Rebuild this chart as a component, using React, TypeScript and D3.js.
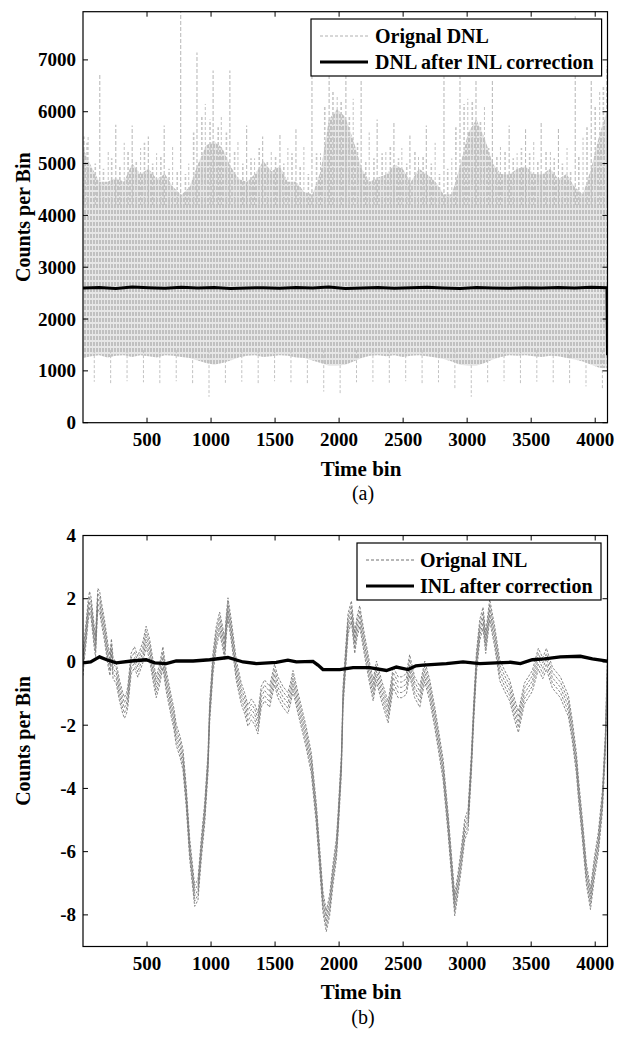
import React from 'react';
import * as d3 from 'd3';

// ---------- data ----------
const xTicks = [500, 1000, 1500, 2000, 2500, 3000, 3500, 4000];
const dnlYTicks = [0, 1000, 2000, 3000, 4000, 5000, 6000, 7000];
const inlYTicks = [-8, -6, -4, -2, 0, 2, 4];

// Original DNL: top / bottom of the dense band, one value every 64 bins
const dnlBandStep = 64;
const dnlBandHigh = [
  5300, 4950, 4650, 4650, 4720, 4650, 5000, 4800, 4900, 4700, 4800, 4550, 4400, 4550, 4980, 5350,
  5430, 5300, 4950, 4700, 4650, 4800, 5050, 4850, 4950, 4650, 4650, 4450, 4410, 4850, 5850, 6050,
  5900, 5450, 4900, 4650, 4730, 4790, 4980, 4900, 4650, 4900, 4790, 4650, 4410, 4410, 4950, 5600,
  5850, 5500, 5000, 4800, 4790, 4900, 4950, 4800, 4790, 4900, 4700, 4800, 4550, 4410, 4900, 5550,
  6050,
];
const dnlBandLow = [
  1250, 1280, 1300, 1260, 1290, 1300, 1270, 1300, 1280, 1260, 1300, 1290, 1270, 1250, 1200, 1150,
  1120, 1150, 1200, 1260, 1290, 1300, 1270, 1280, 1300, 1290, 1260, 1250, 1200, 1150, 1100, 1100,
  1120, 1180, 1250, 1290, 1300, 1280, 1300, 1270, 1290, 1300, 1280, 1260, 1230, 1180, 1120, 1100,
  1100, 1150, 1220, 1270, 1300, 1290, 1300, 1280, 1270, 1290, 1280, 1250, 1220, 1180, 1120, 1060,
  1050,
];
// Original DNL: short spikes poking out of the band top (one every 64 bins, offset by 32)
const dnlFringeBins = [
  32, 96, 160, 224, 288, 352, 416, 480, 544, 608, 672, 736, 800, 864, 928, 992, 1056, 1120, 1184,
  1248, 1312, 1376, 1440, 1504, 1568, 1632, 1696, 1760, 1824, 1888, 1952, 2016, 2080, 2144, 2208,
  2272, 2336, 2400, 2464, 2528, 2592, 2656, 2720, 2784, 2848, 2912, 2976, 3040, 3104, 3168, 3232,
  3296, 3360, 3424, 3488, 3552, 3616, 3680, 3744, 3808, 3872, 3936, 4000, 4064,
];
const dnlFringeValues = [
  5400, 5000, 4900, 5100, 4950, 5250, 5050, 5400, 5000, 5150, 4900, 4850, 4800, 5600, 5900, 5850,
  5700, 5600, 5250, 5000, 5100, 5300, 5050, 5150, 5000, 5200, 4950, 4800, 5200, 6100, 6400, 6200,
  5900, 5400, 5050, 5100, 5200, 5350, 5100, 5000, 5250, 5150, 5000, 4800, 4900, 5700, 6150, 6200,
  5800, 5300, 5150, 5250, 5100, 5300, 5200, 5050, 5250, 5100, 5000, 4850, 5150, 5700, 6100, 6500,
];
// Original DNL: tall upward spikes
const dnlSpikeUpBins = [
  8, 131, 256, 384, 510, 634, 763, 890, 1016, 1147, 1278, 1403, 1538, 1663, 1788, 1922, 2053, 2172,
  2297, 2428, 2553, 2681, 2819, 2944, 3069, 3197, 3328, 3456, 3578, 3713, 3844, 3969, 4090,
];
const dnlSpikeUpValues = [
  5520, 6745, 5747, 5735, 5521, 5735, 7930, 7143, 6795, 6795, 5735, 5520, 5550, 5660, 6745, 6745,
  6810, 6620, 5850, 5785, 5540, 5735, 6680, 6680, 6620, 6620, 5735, 5660, 5820, 5690, 7840, 6620,
  6875,
];
// Original DNL: smaller spikes between the tall ones
const dnlSpikeMidBins = [
  40, 197, 322, 450, 575, 700, 826, 955, 1080, 1210, 1340, 1470, 1600, 1725, 1855, 1985, 2110, 2235,
  2365, 2490, 2620, 2750, 2880, 3005, 3135, 3260, 3390, 3520, 3650, 3780, 3905, 4035,
];
const dnlSpikeMidValues = [
  5550, 5250, 5400, 5300, 5200, 5350, 5000, 6150, 5900, 5450, 5100, 5250, 5300, 5350, 5200, 6300,
  6250, 5600, 5250, 5300, 5150, 5400, 5100, 6250, 6100, 5350, 5200, 5450, 5250, 5300, 5500, 6400,
];
// Original DNL: downward spikes
const dnlSpikeDownBins = [
  88, 216, 344, 472, 600, 728, 856, 984, 1112, 1240, 1368, 1496, 1624, 1752, 1880, 2008, 2136, 2264,
  2392, 2520, 2648, 2776, 2904, 3032, 3160, 3288, 3416, 3544, 3672, 3800, 3928, 4056,
];
const dnlSpikeDownValues = [
  790, 760, 800, 780, 760, 800, 740, 500, 770, 790, 760, 800, 780, 760, 600, 540, 780, 790, 770, 800,
  760, 780, 650, 500, 780, 800, 760, 790, 780, 760, 700, 630,
];
// DNL after INL correction
const dnlAfterBins = [
  0, 128, 256, 384, 512, 640, 768, 896, 1024, 1152, 1280, 1408, 1536, 1664, 1792, 1920, 2048, 2176,
  2304, 2432, 2560, 2688, 2816, 2944, 3072, 3200, 3328, 3456, 3584, 3712, 3840, 3968, 4092, 4096,
];
const dnlAfterValues = [
  2600, 2610, 2590, 2620, 2605, 2595, 2615, 2600, 2610, 2590, 2600, 2605, 2595, 2610, 2600, 2620,
  2590, 2600, 2610, 2595, 2605, 2615, 2600, 2590, 2610, 2600, 2595, 2605, 2600, 2610, 2600, 2615,
  2605, 1300,
];

// Original INL (centre of the zig-zag band)
const inlBins = [
  0, 13, 26, 40, 51, 64, 77, 90, 98, 108, 116, 130, 142, 168, 194, 210, 222, 235, 259, 285, 310, 324,
  340, 350, 376, 402, 428, 450, 467, 493, 520, 546, 572, 598, 624, 650, 689, 710, 728, 759, 781, 807,
  833, 846, 872, 898, 924, 950, 976, 989, 1015, 1041, 1067, 1090, 1106, 1120, 1132, 1158, 1197, 1236,
  1262, 1288, 1315, 1340, 1366, 1392, 1418, 1457, 1496, 1522, 1561, 1600, 1620, 1640, 1679, 1718,
  1744, 1783, 1822, 1848, 1874, 1900, 1926, 1953, 1979, 1992, 2018, 2031, 2052, 2070, 2096, 2112,
  2122, 2140, 2161, 2200, 2239, 2266, 2292, 2331, 2383, 2422, 2461, 2490, 2525, 2551, 2590, 2630,
  2669, 2708, 2747, 2773, 2812, 2851, 2877, 2903, 2929, 2955, 2981, 3007, 3033, 3051, 3072, 3098,
  3124, 3145, 3176, 3215, 3254, 3293, 3332, 3370, 3400, 3447, 3509, 3556, 3590, 3619, 3666, 3728,
  3791, 3822, 3853, 3869, 3900, 3931, 3963, 3994, 4025, 4056, 4080, 4096,
];
const inlValues = [
  -0.1, 0.5, 1.0, 1.6, 1.9, 1.7, 1.2, 0.7, 0.5, 1.4, 2.0, 1.9, 1.6, 1.0, 0.25, -0.1, 0.4, -0.2, -0.35,
  -0.9, -1.3, -1.45, -1.3, -1.1, -0.05, 0.15, -0.15, 0.1, 0.3, 0.8, 0.4, -0.25, -0.8, -0.4, 0.15, -0.6,
  -1.4, -1.8, -2.3, -2.7, -3.1, -4.3, -5.9, -6.4, -7.4, -7.2, -5.9, -4.8, -3.2, -1.6, -0.05, 0.8, 1.25,
  0.8, 0.4, 1.2, 1.7, 1.0, -0.26, -1.0, -1.3, -1.7, -1.5, -1.65, -1.95, -1.1, -0.9, -1.1, -0.4, -0.8,
  -1.1, -1.3, -1.0, -0.6, -1.3, -1.95, -2.4, -3.2, -4.8, -6.2, -7.6, -8.2, -7.7, -6.7, -5.9, -5.1,
  -3.2, -1.1, 0.16, 1.2, 1.6, 1.0, 0.6, 1.1, 1.45, 0.5, -0.37, -0.9, -0.3, -0.9, -1.6, -0.5, -0.8,
  -0.8, -0.7, -0.1, -0.8, -1.1, -0.3, -0.9, -1.75, -2.4, -3.4, -5.1, -6.4, -7.7, -7.0, -6.2, -5.3,
  -5.0, -3.2, -1.6, -0.05, 1.0, 1.4, 0.6, 1.65, 0.8, -0.26, -0.6, -0.9, -1.5, -1.9, -1.0, -0.6, 0.1,
  -0.2, 0.1, -0.5, -0.8, -1.4, -2.2, -3.2, -4.0, -5.3, -6.7, -7.5, -6.5, -5.7, -4.4, -2.5, 0.0,
];
// INL after correction
const inlAfterBins = [
  0, 60, 129, 190, 260, 380, 493, 560, 650, 728, 860, 989, 1132, 1250, 1353, 1509, 1600, 1666, 1796,
  1835, 1874, 2005, 2109, 2239, 2370, 2447, 2538, 2600, 2656, 2838, 2968, 3098, 3228, 3338, 3416,
  3509, 3603, 3728, 3884, 3978, 4096,
];
const inlAfterValues = [
  -0.03, 0.0, 0.16, 0.06, -0.03, 0.03, 0.07, -0.03, -0.05, 0.03, 0.03, 0.07, 0.14, 0.0, -0.05, -0.01,
  0.06, 0.0, 0.02, -0.1, -0.24, -0.24, -0.18, -0.18, -0.27, -0.16, -0.24, -0.12, -0.1, -0.05, 0.0,
  -0.05, -0.03, -0.01, -0.05, 0.07, 0.1, 0.16, 0.18, 0.1, 0.03,
];

// ---------- layout ----------
const FONT = "'Liberation Serif', 'Times New Roman', Times, serif";
const X0 = 83;
const X1 = 607.5;
const TOP = { y0: 11.7, y1: 422.7 };
const BOT = { y0: 535.5, y1: 946.5 };
const TICK = 5;

const x = d3.scaleLinear().domain([0, 4096]).range([X0, X1]);
const yDnl = d3.scaleLinear().domain([0, 7930]).range([TOP.y1, TOP.y0]);
const yInl = d3.scaleLinear().domain([-9, 4]).range([BOT.y1, BOT.y0]);

function Frame({ y0, y1, yScale, yTicks }: any) {
  return (
    <g>
      <rect x={X0} y={y0} width={X1 - X0} height={y1 - y0} fill="none" stroke="#000" strokeWidth={1.2} />
      {xTicks.map((t) => (
        <g key={'x' + t}>
          <line x1={x(t)} x2={x(t)} y1={y1} y2={y1 - TICK} stroke="#000" strokeWidth={1} />
          <line x1={x(t)} x2={x(t)} y1={y0} y2={y0 + TICK} stroke="#000" strokeWidth={1} />
          <text x={x(t)} y={y1 + 23} textAnchor="middle" fontFamily={FONT} fontWeight="bold" fontSize={19}>
            {t}
          </text>
        </g>
      ))}
      {yTicks.map((t: number) => (
        <g key={'y' + t}>
          <line x1={X0} x2={X0 + TICK} y1={yScale(t)} y2={yScale(t)} stroke="#000" strokeWidth={1} />
          <line x1={X1} x2={X1 - TICK} y1={yScale(t)} y2={yScale(t)} stroke="#000" strokeWidth={1} />
          <text x={X0 - 7} y={yScale(t) + 6.5} textAnchor="end" fontFamily={FONT} fontWeight="bold" fontSize={19}>
            {t}
          </text>
        </g>
      ))}
    </g>
  );
}

function Spikes({ bins, values, base, prefix, color, width, dash }: any) {
  return (
    <g>
      {bins.map((b: number, i: number) => (
        <line
          key={prefix + i}
          x1={x(b)}
          x2={x(b)}
          y1={yDnl(base)}
          y2={yDnl(values[i])}
          stroke={color}
          strokeWidth={width}
          strokeDasharray={dash}
        />
      ))}
    </g>
  );
}

export default function App() {
  const bandBins = dnlBandHigh.map((_, i) => Math.min(4096, i * dnlBandStep));
  const bandArea = d3
    .area<number>()
    .x((_, i) => x(bandBins[i]))
    .y0((_, i) => yDnl(dnlBandLow[i]))
    .y1((_, i) => yDnl(dnlBandHigh[i]));
  const dnlAfterLine = d3
    .line<number>()
    .x((_, i) => x(dnlAfterBins[i]))
    .y((v) => yDnl(v));
  const inlLine = (off: number) =>
    d3
      .line<number>()
      .x((_, i) => x(inlBins[i]))
      .y((v) => yInl(v + off));
  const inlAfterLine = d3
    .line<number>()
    .x((_, i) => x(inlAfterBins[i]))
    .y((v) => yInl(v));
  const inlOffsets = [-0.33, -0.165, 0, 0.165, 0.33];

  return (
    <svg
      width={624}
      height={1042}
      viewBox="0 0 624 1042"
      style={{ position: 'absolute', left: 0, top: 0, background: '#fff' }}
    >
      <defs>
        <clipPath id="clipTop">
          <rect x={X0} y={TOP.y0} width={X1 - X0} height={TOP.y1 - TOP.y0} />
        </clipPath>
        <clipPath id="clipBot">
          <rect x={X0} y={BOT.y0} width={X1 - X0} height={BOT.y1 - BOT.y0} />
        </clipPath>
        <pattern id="dnlTex" width={3} height={6} patternUnits="userSpaceOnUse">
          <rect x={0} y={0} width={3} height={6} fill="#e6e6e6" />
          <rect x={0} y={0} width={2} height={4} fill="#c0c0c0" />
        </pattern>
      </defs>
      <rect x={0} y={0} width={624} height={1042} fill="#fff" />

      {/* ---------- (a) DNL ---------- */}
      <g clipPath="url(#clipTop)">
        <path d={bandArea(dnlBandHigh) || ''} fill="url(#dnlTex)" stroke="none" />
        <Spikes bins={dnlFringeBins} values={dnlFringeValues} base={4200} prefix="f" color="#c6c6c6" width={1.6} dash="3 2" />
        <Spikes bins={dnlSpikeMidBins} values={dnlSpikeMidValues} base={4200} prefix="m" color="#c2c2c2" width={1} dash="3 2" />
        <Spikes bins={dnlSpikeUpBins} values={dnlSpikeUpValues} base={4200} prefix="u" color="#bcbcbc" width={1.1} dash="4 2" />
        <Spikes bins={dnlSpikeDownBins} values={dnlSpikeDownValues} base={1400} prefix="d" color="#c2c2c2" width={1} dash="3 2" />
        <path d={dnlAfterLine(dnlAfterValues) || ''} fill="none" stroke="#000" strokeWidth={3} />
      </g>
      <Frame y0={TOP.y0} y1={TOP.y1} yScale={yDnl} yTicks={dnlYTicks} />
      {/* legend (a) */}
      <g>
        <rect x={311} y={19} width={290.6} height={57} fill="#fff" stroke="#000" strokeWidth={1.2} />
        <line x1={320} x2={368} y1={36} y2={36} stroke="#b0b0b0" strokeWidth={1} strokeDasharray="3 2" />
        <text x={375} y={43} fontFamily={FONT} fontWeight="bold" fontSize={20}>
          Orignal DNL
        </text>
        <line x1={320} x2={368} y1={62} y2={62} stroke="#000" strokeWidth={3} />
        <text x={375} y={69} fontFamily={FONT} fontWeight="bold" fontSize={20}>
          DNL after INL correction
        </text>
      </g>
      <text
        transform={`translate(30,${(TOP.y0 + TOP.y1) / 2}) rotate(-90)`}
        textAnchor="middle"
        fontFamily={FONT}
        fontWeight="bold"
        fontSize={20}
      >
        Counts per Bin
      </text>
      <text x={361} y={476} textAnchor="middle" fontFamily={FONT} fontWeight="bold" fontSize={21}>
        Time bin
      </text>
      <text x={363} y={500} textAnchor="middle" fontFamily={FONT} fontSize={20}>
        (a)
      </text>

      {/* ---------- (b) INL ---------- */}
      <g clipPath="url(#clipBot)">
        {inlOffsets.map((o) => (
          <path
            key={'o' + o}
            d={inlLine(o)(inlValues) || ''}
            fill="none"
            stroke="#777"
            strokeWidth={0.9}
            strokeDasharray="2.5 1.5"
          />
        ))}
        <path d={inlAfterLine(inlAfterValues) || ''} fill="none" stroke="#000" strokeWidth={3.3} />
      </g>
      <Frame y0={BOT.y0} y1={BOT.y1} yScale={yInl} yTicks={inlYTicks} />
      {/* legend (b) */}
      <g>
        <rect x={357} y={543} width={244} height={57} fill="#fff" stroke="#000" strokeWidth={1.2} />
        <line x1={366} x2={414} y1={560} y2={560} stroke="#707070" strokeWidth={1} strokeDasharray="3 2" />
        <text x={420} y={567} fontFamily={FONT} fontWeight="bold" fontSize={20}>
          Orignal INL
        </text>
        <line x1={366} x2={414} y1={586} y2={586} stroke="#000" strokeWidth={3} />
        <text x={420} y={593} fontFamily={FONT} fontWeight="bold" fontSize={20}>
          INL after correction
        </text>
      </g>
      <text
        transform={`translate(30,${(BOT.y0 + BOT.y1) / 2}) rotate(-90)`}
        textAnchor="middle"
        fontFamily={FONT}
        fontWeight="bold"
        fontSize={20}
      >
        Counts per Bin
      </text>
      <text x={361} y={999} textAnchor="middle" fontFamily={FONT} fontWeight="bold" fontSize={21}>
        Time bin
      </text>
      <text x={363} y={1024} textAnchor="middle" fontFamily={FONT} fontSize={20}>
        (b)
      </text>
    </svg>
  );
}
